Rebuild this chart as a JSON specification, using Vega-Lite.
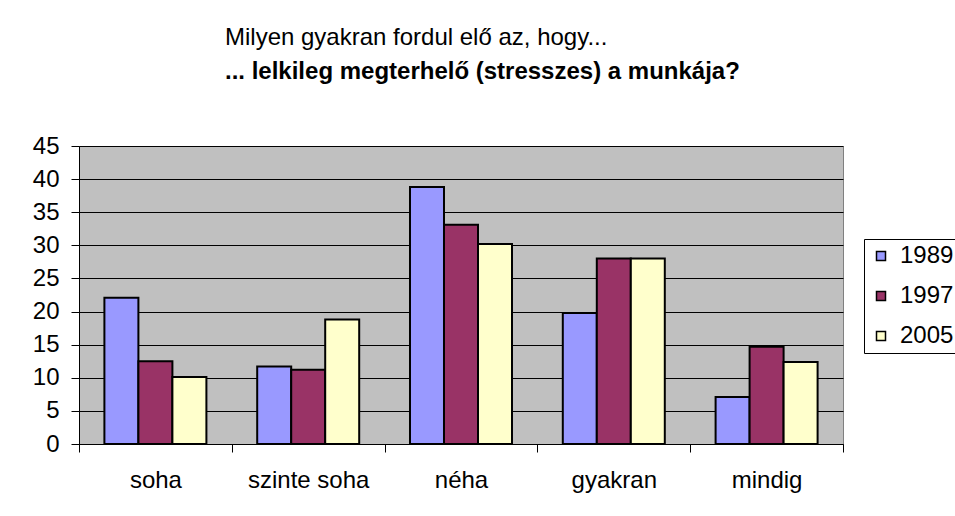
{
  "$schema": "https://vega.github.io/schema/vega-lite/v6.json",
  "width": 764,
  "height": 298,
  "autosize": {"type": "none"},
  "padding": {"left": 79, "top": 146, "right": 112, "bottom": 72},
  "background": "white",
  "title": {
    "text": "Milyen gyakran fordul elő az, hogy...",
    "subtitle": "... lelkileg megterhelő (stresszes) a munkája?",
    "anchor": "start",
    "frame": "group",
    "dx": 146,
    "offset": 50,
    "font": "Liberation Sans",
    "fontSize": 24,
    "fontWeight": "normal",
    "color": "black",
    "subtitleFont": "Liberation Sans",
    "subtitleFontSize": 24,
    "subtitleFontWeight": "bold",
    "subtitleColor": "black",
    "subtitlePadding": 10
  },
  "data": {
    "values": [
      {"cat": "soha", "year": "1989", "value": 22.1},
      {"cat": "soha", "year": "1997", "value": 12.5},
      {"cat": "soha", "year": "2005", "value": 10.1},
      {"cat": "szinte soha", "year": "1989", "value": 11.7},
      {"cat": "szinte soha", "year": "1997", "value": 11.2},
      {"cat": "szinte soha", "year": "2005", "value": 18.8},
      {"cat": "néha", "year": "1989", "value": 38.8},
      {"cat": "néha", "year": "1997", "value": 33.1},
      {"cat": "néha", "year": "2005", "value": 30.2},
      {"cat": "gyakran", "year": "1989", "value": 19.8},
      {"cat": "gyakran", "year": "1997", "value": 28.0},
      {"cat": "gyakran", "year": "2005", "value": 28.0},
      {"cat": "mindig", "year": "1989", "value": 7.1},
      {"cat": "mindig", "year": "1997", "value": 14.7},
      {"cat": "mindig", "year": "2005", "value": 12.4}
    ]
  },
  "mark": {"type": "bar", "stroke": "black", "strokeWidth": 2},
  "encoding": {
    "x": {
      "field": "cat",
      "type": "nominal",
      "sort": ["soha", "szinte soha", "néha", "gyakran", "mindig"],
      "scale": {"paddingInner": 0, "paddingOuter": 0},
      "axis": {
        "title": null,
        "labelAngle": 0,
        "tickBand": "extent",
        "tickSize": 8,
        "labelPadding": 16,
        "labelFont": "Liberation Sans",
        "labelFontSize": 24,
        "labelColor": "black",
        "domainColor": "black",
        "tickColor": "black",
        "grid": false
      }
    },
    "xOffset": {
      "field": "year",
      "type": "nominal",
      "scale": {"paddingInner": 0, "paddingOuter": 0.747}
    },
    "y": {
      "field": "value",
      "type": "quantitative",
      "scale": {"domain": [0, 45], "nice": false},
      "axis": {
        "title": null,
        "values": [0, 5, 10, 15, 20, 25, 30, 35, 40, 45],
        "tickSize": 8,
        "labelPadding": 12,
        "labelFont": "Liberation Sans",
        "labelFontSize": 24,
        "labelColor": "black",
        "domainColor": "black",
        "tickColor": "black",
        "grid": true,
        "gridColor": "black",
        "gridOpacity": 1,
        "gridWidth": 1
      }
    },
    "color": {
      "field": "year",
      "type": "nominal",
      "scale": {"domain": ["1989", "1997", "2005"], "range": ["#9999FF", "#993366", "#FFFFCC"]},
      "legend": {
        "title": null,
        "orient": "none",
        "legendX": 785,
        "legendY": 93,
        "strokeColor": "black",
        "fillColor": "white",
        "padding": 5,
        "symbolType": "square",
        "symbolSize": 81,
        "symbolStrokeColor": "black",
        "symbolStrokeWidth": 1.5,
        "symbolOpacity": 1,
        "labelFont": "Liberation Sans",
        "labelFontSize": 24,
        "labelColor": "black",
        "labelOffset": 7,
        "rowPadding": 16
      }
    }
  },
  "config": {
    "view": {"fill": "#C0C0C0", "stroke": "#808080", "strokeWidth": 1}
  }
}
